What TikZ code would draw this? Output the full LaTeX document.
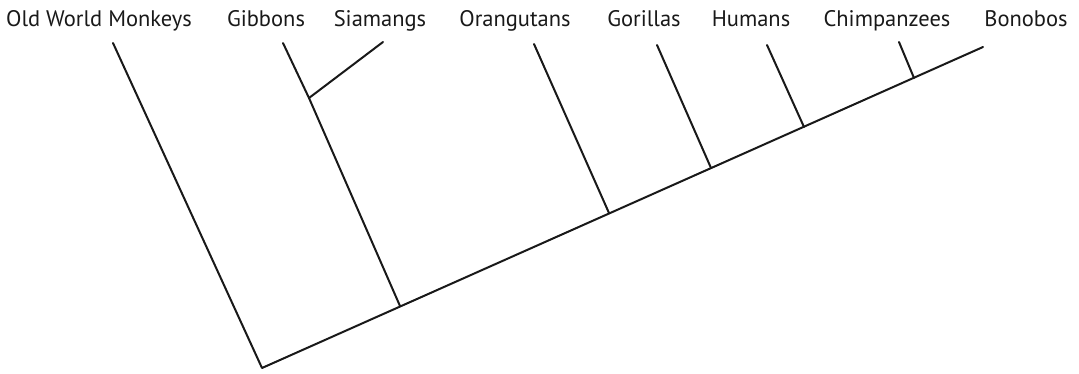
\documentclass[tikz,border=0pt]{standalone}
\usepackage{fontspec}
\setmainfont{PT Sans}
\begin{document}
\begin{tikzpicture}[x=1pt,y=-1pt,
  lbl/.style={anchor=base,inner sep=0pt,font=\fontsize{22.5}{26}\selectfont,text=black!90},
  branch/.style={line width=2pt,black!90,line cap=round,line join=round}]
\useasboundingbox (0,0) rectangle (1079,373);
% labels
\node[lbl] (owm) at (99,26) {Old World Monkeys};
\node[lbl] (gib) at (266,26) {Gibbons};
\node[lbl] (sia) at (380,26) {Siamangs};
\node[lbl] (ora) at (515,26) {Orangutans};
\node[lbl] (gor) at (644,26) {Gorillas};
\node[lbl] (hum) at (751,26) {Humans};
\node[lbl] (chi) at (887,26) {Chimpanzees};
\node[lbl] (bon) at (1026,26) {Bonobos};
% tips
\coordinate (tOWM) at (113,43);
\coordinate (tGIB) at (283,43);
\coordinate (tSIA) at (383,42);
\coordinate (tORA) at (534,44);
\coordinate (tGOR) at (657,45);
\coordinate (tHUM) at (767,45);
\coordinate (tCHI) at (899,42);
\coordinate (tBON) at (983,47);
% internal nodes
\coordinate (root) at (262,368);
\coordinate (nGIB) at (400,306);
\coordinate (nGS) at (309,98);
\coordinate (nORA) at (609,213);
\coordinate (nGOR) at (711,168);
\coordinate (nHUM) at (804,127);
\coordinate (nCHI) at (914,78);
% tree
\draw[branch] (tOWM) -- (root) -- (tBON);
\draw[branch] (tGIB) -- (nGS) -- (nGIB);
\draw[branch] (nGS) -- (tSIA);
\draw[branch] (tORA) -- (nORA);
\draw[branch] (tGOR) -- (nGOR);
\draw[branch] (tHUM) -- (nHUM);
\draw[branch] (tCHI) -- (nCHI);
\end{tikzpicture}
\end{document}
